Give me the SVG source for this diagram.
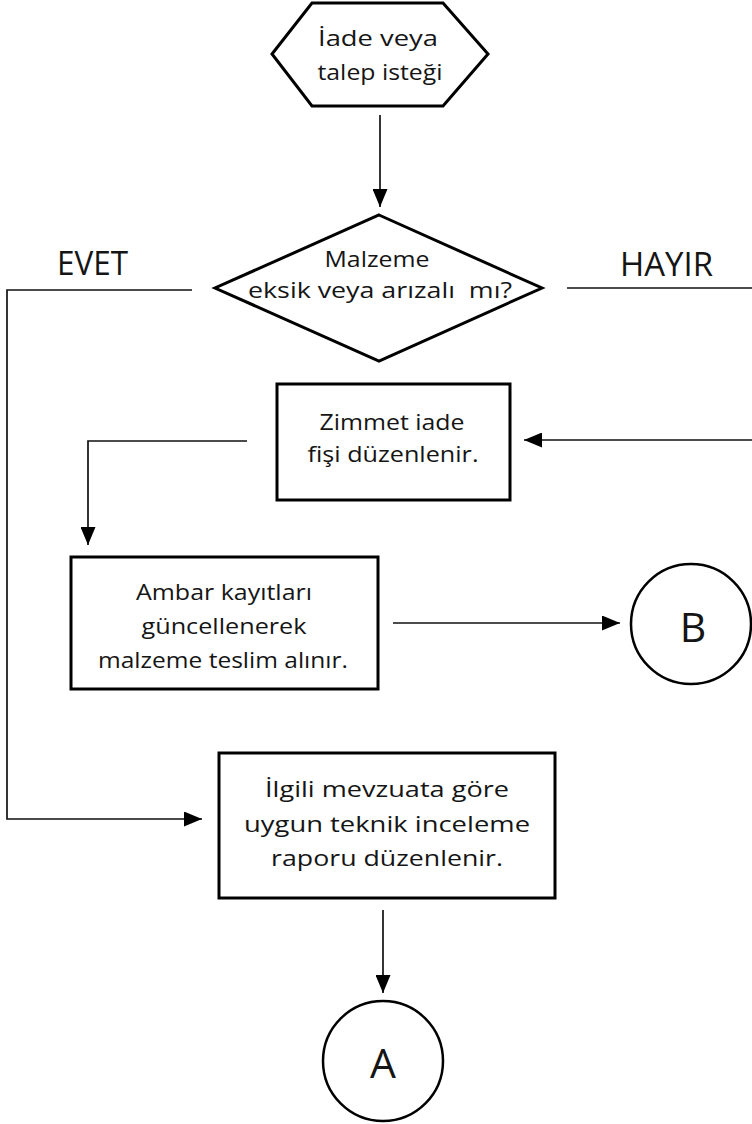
<svg xmlns="http://www.w3.org/2000/svg" width="752" height="1124" viewBox="0 0 752 1124">
  <style>
    .shape { fill: #ffffff; stroke: #000000; stroke-width: 3; }
    .circ { fill: #ffffff; stroke: #000000; stroke-width: 2.5; }
    .conn { fill: none; stroke: #111111; stroke-width: 1.7; }
    .t { font-family: "Open Sans", "Noto Sans", "Liberation Sans", sans-serif; font-size: 22px; fill: #151515; text-anchor: middle; }
    .lbl { font-family: "Open Sans", "Noto Sans", "Liberation Sans", sans-serif; font-size: 32px; fill: #151515; }
    .big { font-family: "Open Sans", "Noto Sans", "Liberation Sans", sans-serif; font-size: 41px; fill: #151515; text-anchor: middle; }
  </style>
  <defs>
    <marker id="arrow" markerUnits="userSpaceOnUse" markerWidth="18" markerHeight="15" refX="18" refY="7.5" orient="auto">
      <path d="M0,0 L18,7.5 L0,15 z" fill="#000000"/>
    </marker>
  </defs>
  <rect width="752" height="1124" fill="#ffffff"/>

  <g id="connectors">
    <line class="conn" x1="380" y1="115" x2="380" y2="207" marker-end="url(#arrow)"/>
    <polyline class="conn" points="192,290 7,290 7,819 202,819" marker-end="url(#arrow)"/>
    <line class="conn" x1="567" y1="288" x2="752" y2="288"/>
    <line class="conn" x1="752" y1="440" x2="524" y2="440" marker-end="url(#arrow)"/>
    <polyline class="conn" points="247,441 88,441 88,545" marker-end="url(#arrow)"/>
    <line class="conn" x1="393" y1="623" x2="620" y2="623" marker-end="url(#arrow)"/>
    <line class="conn" x1="383" y1="910" x2="383" y2="993" marker-end="url(#arrow)"/>
  </g>

  <g id="labels">
    <text class="lbl" x="57" y="275" textLength="71" lengthAdjust="spacingAndGlyphs">EVET</text>
    <text class="lbl" x="620" y="276" textLength="93" lengthAdjust="spacingAndGlyphs">HAYIR</text>
  </g>

  <g id="start">
    <polygon class="shape" points="272,54 312,3 443,3 488,54 443,106 312,106"/>
    <text class="t" x="378" y="46" textLength="120" lengthAdjust="spacingAndGlyphs">İade veya</text>
    <text class="t" x="380" y="80" textLength="125" lengthAdjust="spacingAndGlyphs">talep isteği</text>
  </g>

  <g id="decision">
    <polygon class="shape" points="379,215 542,288 379,361 215,288"/>
    <text class="t" x="377" y="267" textLength="105" lengthAdjust="spacingAndGlyphs">Malzeme</text>
    <text class="t" x="380" y="298" textLength="264" lengthAdjust="spacingAndGlyphs" style="white-space:pre">eksik veya arızalı  mı?</text>
  </g>

  <g id="zimmet">
    <rect class="shape" x="277" y="384" width="233" height="116"/>
    <text class="t" x="392" y="430" textLength="145" lengthAdjust="spacingAndGlyphs">Zimmet iade</text>
    <text class="t" x="393" y="462" textLength="171" lengthAdjust="spacingAndGlyphs">fişi düzenlenir.</text>
  </g>

  <g id="ambar">
    <rect class="shape" x="71" y="557" width="307" height="132"/>
    <text class="t" x="224" y="600" textLength="176" lengthAdjust="spacingAndGlyphs">Ambar kayıtları</text>
    <text class="t" x="224" y="634" textLength="165" lengthAdjust="spacingAndGlyphs">güncellenerek</text>
    <text class="t" x="223" y="668" textLength="250" lengthAdjust="spacingAndGlyphs">malzeme teslim alınır.</text>
  </g>

  <g id="circleB">
    <circle class="circ" cx="691" cy="624" r="60"/>
    <text class="big" x="693" y="642">B</text>
  </g>

  <g id="rapor">
    <rect class="shape" x="219" y="753" width="336" height="145"/>
    <text class="t" x="387" y="797" textLength="244" lengthAdjust="spacingAndGlyphs">İlgili mevzuata göre</text>
    <text class="t" x="387" y="832" textLength="286" lengthAdjust="spacingAndGlyphs">uygun teknik inceleme</text>
    <text class="t" x="387" y="866" textLength="232" lengthAdjust="spacingAndGlyphs">raporu düzenlenir.</text>
  </g>

  <g id="circleA">
    <circle class="circ" cx="383" cy="1061" r="60"/>
    <text class="big" x="383" y="1078">A</text>
  </g>
</svg>
